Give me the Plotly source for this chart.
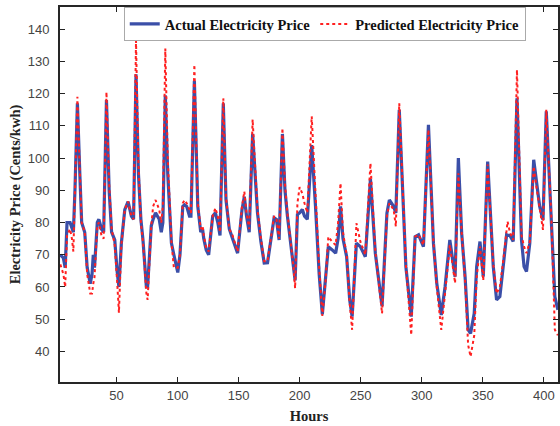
import plotly.graph_objects as go

hours = [4, 6.5, 8, 9.5, 12, 13.5, 14.7, 16, 18, 20, 21.5, 24, 26, 28.5, 30, 31, 32, 34.3, 35.6, 37.7,
         39.5, 41.8, 44, 46, 48.6, 50.5, 52, 54, 56.8, 59.5, 62.2, 64, 66, 68, 70, 71.7, 74.5, 75.5, 78.5, 80,
         82, 85, 86.7, 88, 90, 92, 95, 97, 100.2, 102, 104.3, 105.7, 107.5, 109.8, 111, 113.8, 116.6, 119, 120.5, 121.5,
         123.5, 125.5, 128.8, 131, 133, 134.8, 137.5, 139.7, 142.4, 145.1, 149.2, 152.8, 154.7, 156.5, 158.7, 161.5, 165.5, 168.3, 171, 173.7,
         176.4, 179.1, 181, 183.2, 185.9, 188, 190, 192.7, 195, 196.3, 198.2, 200, 202.2, 204, 206.3, 209.9, 213, 216, 218.6, 221.3,
         223.5, 226.7, 229.5, 231.5, 233.5, 235.5, 238.5, 241, 243, 246.5, 249.8, 253.8, 256, 258, 262, 264.7, 267.5, 271.5, 273.5, 277,
         278.8, 281.6, 285, 287, 291.4, 294.6, 297.4, 301.4, 305.5, 309.6, 312.3, 316, 319.1, 323, 327.3, 330, 332.7, 335.5, 338, 340,
         343, 345, 347.7, 350.4, 354, 358.6, 361.3, 364, 366.7, 369.5, 370.3, 372.2, 374.9, 378, 381.7, 383.8, 385.8, 388.5, 391.7, 393.9,
         396.6, 399.3, 402, 406.1, 409, 411.5]

actual = [70, 69, 66, 80, 80, 78, 77, 90, 117, 95, 80, 77, 66, 61, 64, 70, 66, 80, 81, 78,
          77, 118, 90, 77, 74.6, 65, 60, 73.6, 84, 86.5, 82, 81, 126, 95, 81, 74.6, 60, 60, 79, 81,
          83, 81, 77, 80, 119.5, 95, 73.6, 70, 64.5, 70, 85, 85.5, 85, 82, 82, 124, 85, 77, 78, 75,
          71.5, 70, 82, 83, 80, 76, 117, 87, 78, 75, 70.5, 84, 88, 82, 77, 107.5, 83, 74, 67.4, 67.5,
          74, 81.5, 81, 74.6, 107.5, 90, 82, 73.6, 66, 62, 82.5, 83, 84, 82, 81, 104, 85, 64, 51.5, 63,
          72.5, 71.5, 70.5, 75, 85, 75, 69.4, 56, 50.8, 73.6, 72.5, 69.4, 81.9, 93.5, 70.5, 62.2, 54, 82.9, 87, 85,
          83, 115, 85, 66.3, 50.8, 75.6, 76.2, 72.5, 110.3, 73.6, 61.2, 51.3, 60, 74.6, 63.2, 100, 76.7, 63.2, 46.7, 45.6,
          51.8, 66.3, 74.1, 63.2, 98.9, 66.3, 56, 57, 66.3, 76.2, 76, 76, 74.1, 118.6, 74.6, 66.3, 64.8, 73.6, 99.5, 92.7,
          85, 80.8, 114.5, 80.8, 57, 52.9]

predicted = [67, 64, 60, 76, 78, 75, 71, 90, 119, 96, 80, 77, 64, 58, 58, 61, 63, 79, 80, 76,
             75, 120.5, 92, 78, 73, 62, 52, 73, 84, 86.5, 82, 81, 136.5, 98, 80, 74, 58, 56, 79, 85,
             87, 84, 80, 85, 134, 100, 74, 66, 66, 70, 86, 87, 86, 84, 83, 129, 86, 78, 79, 76,
             72, 71, 82, 84.5, 82, 77, 118.6, 88, 78, 76, 71, 85, 89.6, 83, 78, 112, 84, 75, 68, 68,
             75, 82, 81, 75, 109.3, 92, 83, 74, 66, 59.6, 86, 91, 89, 86, 83, 113, 87, 66, 51, 62,
             75.6, 74, 73, 80, 92.2, 77, 70, 55, 46.7, 79.8, 74, 70, 85, 98.4, 71, 62, 51.8, 82, 86, 84,
             78.8, 117, 86, 67, 45.1, 75.6, 76.2, 73, 108.8, 74, 60, 46.7, 58, 73, 61.2, 95.3, 77, 62, 42, 38.4,
             45, 63, 72.5, 62, 98, 67, 58, 60, 68, 78, 80.3, 77, 74.6, 127.4, 76, 72.5, 70.5, 74, 97.4, 91.2,
             85, 77.7, 115, 82, 46.7, 45]

x_ticks = [50, 100, 150, 200, 250, 300, 350, 400]
y_ticks = [40, 50, 60, 70, 80, 90, 100, 110, 120, 130, 140]

fig = go.Figure()
fig.add_trace(go.Scatter(x=hours, y=actual, mode="lines",
                         name="<b>Actual Electricity Price</b>",
                         line=dict(color="#3B4FA8", width=3.2)))
fig.add_trace(go.Scatter(x=hours, y=predicted, mode="lines",
                         name="<b>Predicted Electricity Price</b>",
                         line=dict(color="#FF2020", width=2, dash="dot")))

fig.update_layout(
    width=560, height=426,
    margin=dict(l=60, r=0, t=7, b=44),
    paper_bgcolor="white", plot_bgcolor="white",
    showlegend=True,
    legend=dict(orientation="h", x=0.128, y=1.0, xanchor="left", yanchor="top",
                bgcolor="white", bordercolor="#AAAAAA", borderwidth=1,
                font=dict(family="Liberation Serif", size=14.5, color="#111"),
                itemwidth=30, tracegroupgap=0),
    xaxis=dict(range=[3.75, 411.6], tickmode="array", tickvals=x_ticks,
               ticks="inside", ticklen=5, tickwidth=1, tickcolor="#222",
               showline=True, linecolor="#262626", linewidth=2, mirror="ticks",
               showgrid=False, zeroline=False,
               tickfont=dict(family="Liberation Sans", size=13, color="#444"),
               title=dict(text="<b>Hours</b>", standoff=9,
                          font=dict(family="Liberation Serif", size=14.5, color="#222"))),
    yaxis=dict(range=[30.5, 146.9], tickmode="array", tickvals=y_ticks,
               ticks="inside", ticklen=5, tickwidth=1, tickcolor="#222",
               showline=True, linecolor="#262626", linewidth=2, mirror="ticks",
               showgrid=False, zeroline=False, ticklabelstandoff=6,
               tickfont=dict(family="Liberation Sans", size=13, color="#444"),
               title=dict(text="<b>Electricity Price (Cents/kwh)</b>", standoff=4,
                          font=dict(family="Liberation Serif", size=14.5, color="#222"))),
)

fig.write_html("out.html")
